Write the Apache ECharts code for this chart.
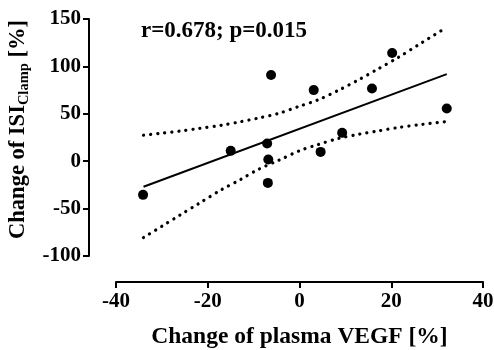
<!DOCTYPE html>
<html>
<head>
<meta charset="utf-8">
<script src="https://cdn.jsdelivr.net/npm/echarts@6/dist/echarts.min.js"></script>
<style>
html, body { margin: 0; padding: 0; background: #fff; }
#chart { width: 494px; height: 350px; }
</style>
</head>
<body>
<div id="chart"></div>
<script>
// measured points
var vegfChange = [-34.1, -15, -7.05, -6.8, -6.9, -6.2, 3.1, 4.6, 9.3, 15.8, 20.2, 32.1]
var isiChange = [-35.5, 10.9, 18.7, 1.8, -22.9, 91, 75, 9.8, 29.9, 76.7, 114.2, 55.6]

// regression line ends
var fitX = [-34, 32.1]
var fitY = [-27, 91.8]

// 95% confidence band
var bandX = [-34, -30, -26, -22, -17, -13, -9, -4.5, 0, 4, 8.5, 13, 17, 21.5, 26, 32]
var bandUpper = [27.4, 29.5, 31.8, 34.5, 37.9, 41.5, 45.5, 50.5, 58, 64.6, 74.8, 86.2, 97, 109.4, 123, 141]
var bandLower = [-80.5, -68.6, -56.6, -44.8, -30, -19.7, -8.7, 1, 11, 17.5, 24, 28.5, 31.8, 35.5, 38.4, 41.8]

var annotation = 'r=0.678; p=0.015'

function pairs(xs, ys){
    var out = []
    for (var i=0; i<xs.length; i++){
        out.push([xs[i], ys[i]])
    }
    return(out)
}

var font = 'Liberation Serif'
var dotted = {color: '#000', width: 3.2, type: [0.1, 7], cap: 'round'}

var option = {
    animation: false,
    title: {
        text: annotation,
        left: 136,
        top: 15,
        textStyle: {fontFamily: font, fontWeight: 'bold', fontSize: 23, color: '#000'}
    },
    grid: {left: 116, right: 11, top: 19, bottom: 94, containLabel: false, outerBoundsMode: 'none'},
    xAxis: {
        type: 'value',
        min: -40, max: 40, interval: 20,
        offset: 26,
        splitLine: {show: false},
        axisLine: {show: true, onZero: false, lineStyle: {color: '#000', width: 2}},
        axisTick: {show: true, length: 6, lineStyle: {color: '#000', width: 2}},
        axisLabel: {fontFamily: font, fontWeight: 'bold', fontSize: 21, color: '#000', margin: 9},
        name: 'Change of plasma VEGF [%]',
        nameLocation: 'middle',
        nameGap: 43,
        nameTextStyle: {fontFamily: font, fontWeight: 'bold', fontSize: 23.5, color: '#000'}
    },
    yAxis: {
        type: 'value',
        min: -100, max: 150, interval: 50,
        offset: 27,
        splitLine: {show: false},
        axisLine: {show: true, onZero: false, lineStyle: {color: '#000', width: 2}},
        axisTick: {show: true, length: 6, lineStyle: {color: '#000', width: 2}},
        axisLabel: {fontFamily: font, fontWeight: 'bold', fontSize: 21, color: '#000', margin: 8},
        name: '{c|Change of ISI}{b|Clamp}{a| [%]}',
        nameLocation: 'middle',
        nameGap: 45,
        nameTextStyle: {
            rich: {
                c: {fontFamily: font, fontWeight: 'bold', fontSize: 22.5, color: '#000', lineHeight: 26, padding: [0, 0, 0, 16]},
                a: {fontFamily: font, fontWeight: 'bold', fontSize: 22.5, color: '#000', lineHeight: 26},
                b: {fontFamily: font, fontWeight: 'bold', fontSize: 14.5, color: '#000', lineHeight: 26, padding: [12, 0, 0, 0]}
            }
        }
    },
    series: [
        {
            type: 'line',
            data: pairs(bandX, bandUpper),
            showSymbol: false,
            smooth: 0.3,
            lineStyle: dotted
        },
        {
            type: 'line',
            data: pairs(bandX, bandLower),
            showSymbol: false,
            smooth: 0.3,
            lineStyle: dotted
        },
        {
            type: 'line',
            data: pairs(fitX, fitY),
            showSymbol: false,
            lineStyle: {color: '#000', width: 2}
        },
        {
            type: 'scatter',
            data: pairs(vegfChange, isiChange),
            symbolSize: 10,
            itemStyle: {color: '#000', opacity: 1}
        }
    ]
}

var myChart = echarts.init(document.getElementById('chart'))
myChart.setOption(option)
</script>
</body>
</html>
